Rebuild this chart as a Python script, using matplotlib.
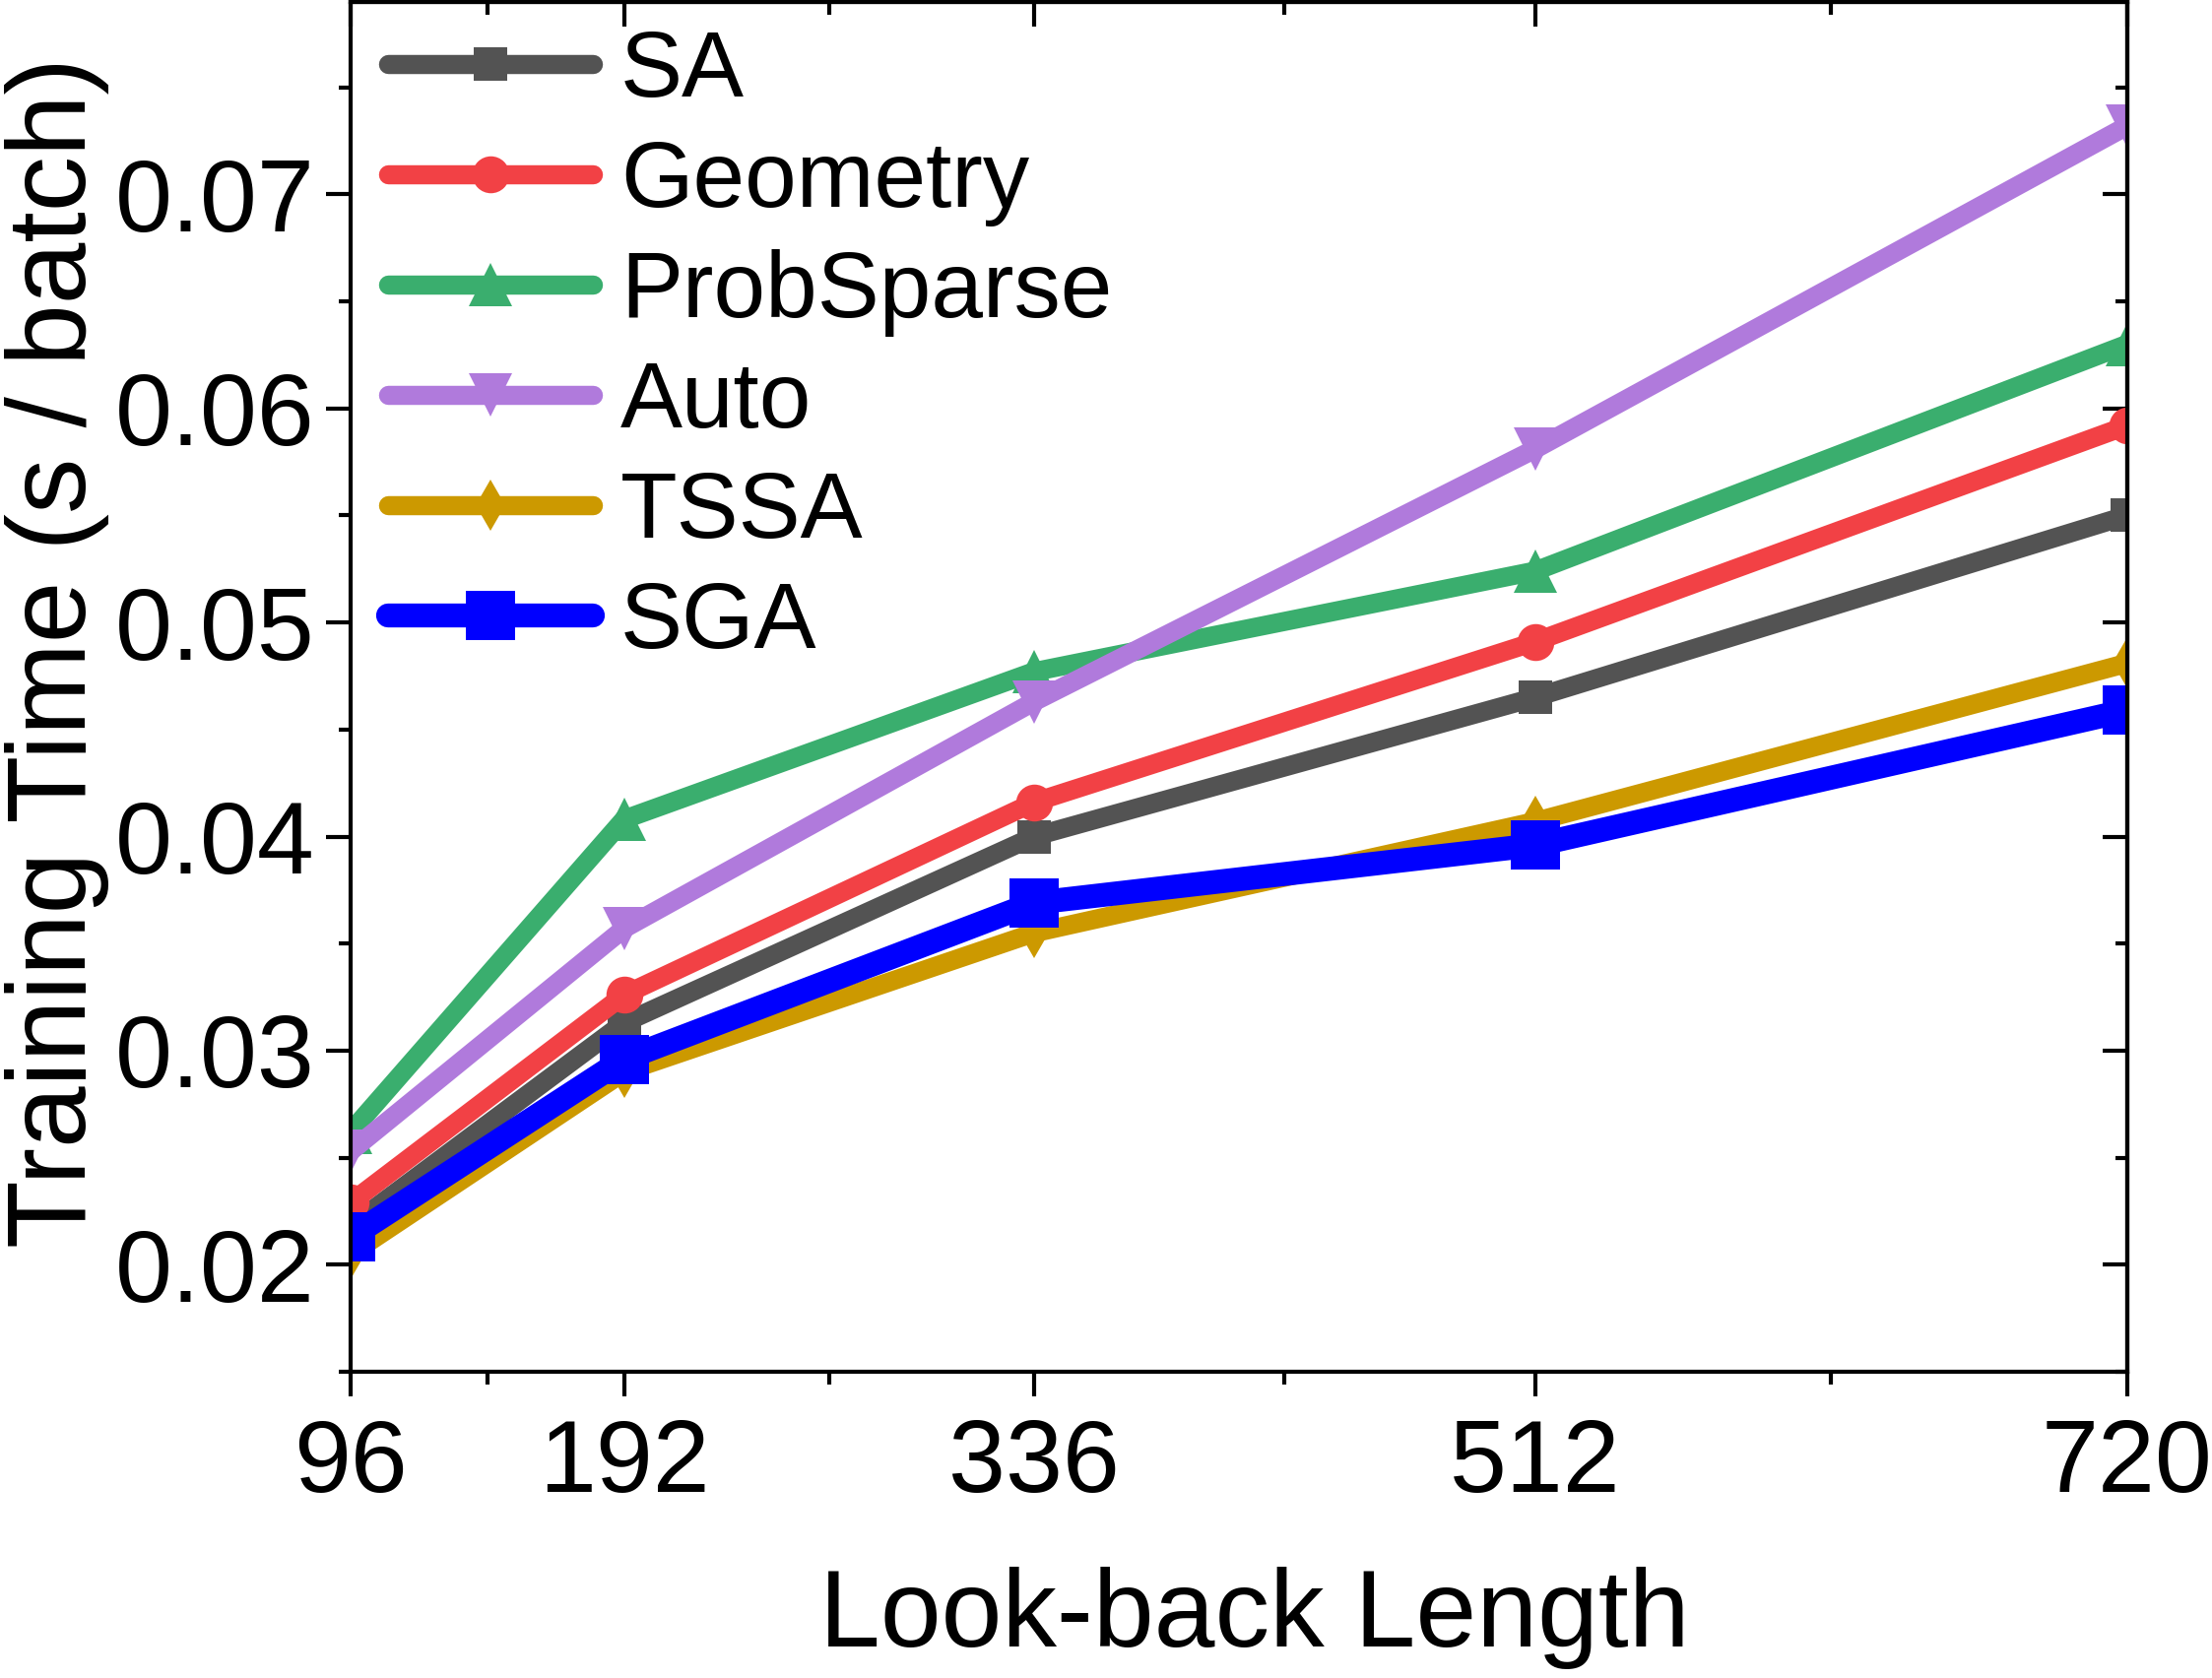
import matplotlib
matplotlib.use("Agg")
import matplotlib.pyplot as plt
from matplotlib.ticker import FixedLocator

plt.rcParams['font.family'] = ['Liberation Sans', 'DejaVu Sans']

lookback = [96, 192, 336, 512, 720]
minor_x = [144, 264, 424, 616]
labels = ["SA", "Geometry", "ProbSparse", "Auto", "TSSA", "SGA"]
sa = [0.0218, 0.0313, 0.0400, 0.0465, 0.0550]
geometry = [0.0229, 0.0326, 0.0416, 0.0491, 0.0592]
probsparse = [0.0262, 0.0408, 0.0477, 0.0524, 0.0630]
auto = [0.0253, 0.0357, 0.0463, 0.0581, 0.0732]
tssa = [0.0205, 0.0290, 0.0355, 0.0407, 0.0481]
sga = [0.0213, 0.0296, 0.0369, 0.0396, 0.0459]
y_ticks = [0.02, 0.03, 0.04, 0.05, 0.06, 0.07]

series = [sa, geometry, probsparse, auto, tssa, sga]
colors = ["#535353", "#F24145", "#3AAE6E", "#B07ADC", "#CC9900", "#0000FF"]
markers = ["s", "o", "^", "v", "d", "s"]
msizes = [24, 27, 31, 31, 26, 36]
lws = [14, 14, 14, 14, 14, 17.5]

fig = plt.figure(figsize=(22.46, 17.04), dpi=100)
ax = fig.add_axes([356/2246, 1 - 1393/1704, (2160-356)/2246, 1393/1704 - 0.001])

for s, lab, c, m, ms, lw in zip(series, labels, colors, markers, msizes, lws):
    ax.plot(lookback, s, color=c, marker=m, markersize=ms, markeredgewidth=0,
            linewidth=lw, label=lab, solid_capstyle='round', solid_joinstyle='miter')

ax.set_xlim(96, 720)
ax.set_ylim(0.015, 0.079)
ax.set_xticks(lookback)
ax.set_xticklabels([str(v) for v in lookback])
ax.xaxis.set_minor_locator(FixedLocator(minor_x))
ax.set_yticks(y_ticks)
ax.set_yticklabels([f"{v:.2f}" for v in y_ticks])
y_minor = [0.015 + 0.005*i for i in range(13)]
ax.yaxis.set_minor_locator(FixedLocator(y_minor))

for sp in ax.spines.values():
    sp.set_linewidth(3)

ax.tick_params(axis='both', which='major', direction='out', length=18, width=3, labelsize=75)
ax.tick_params(axis='both', which='minor', direction='out', length=9, width=3)
ax.tick_params(axis='x', which='major', pad=16)
ax.tick_params(axis='y', which='major', pad=8)

# inward ticks on top and right
secx = ax.secondary_xaxis('top')
secx.set_xticks(lookback)
secx.xaxis.set_minor_locator(FixedLocator(minor_x))
secx.tick_params(axis='x', which='major', direction='in', length=18, width=3, labeltop=False)
secx.tick_params(axis='x', which='minor', direction='in', length=9, width=3)
secx.spines['top'].set_linewidth(3)
secy = ax.secondary_yaxis('right')
secy.set_yticks(y_ticks)
secy.yaxis.set_minor_locator(FixedLocator(y_minor))
secy.tick_params(axis='y', which='major', direction='in', length=18, width=3, labelright=False)
secy.tick_params(axis='y', which='minor', direction='in', length=9, width=3)
secy.spines['right'].set_linewidth(3)

ax.set_xlabel("Look-back Length", fontsize=80)
ax.xaxis.set_label_coords(0.509, -0.142)
ax.set_ylabel("Training Time (s / batch)", fontsize=81)
ax.yaxis.set_label_coords(-0.136, 0.525)

leg = ax.legend(loc='upper left', bbox_to_anchor=(0.0105, 0.994), frameon=False,
                fontsize=68, handlelength=2.2, handletextpad=0.3, labelspacing=0.243,
                borderpad=0.2, borderaxespad=0, numpoints=1)

fig.savefig("out.png", dpi=100)
